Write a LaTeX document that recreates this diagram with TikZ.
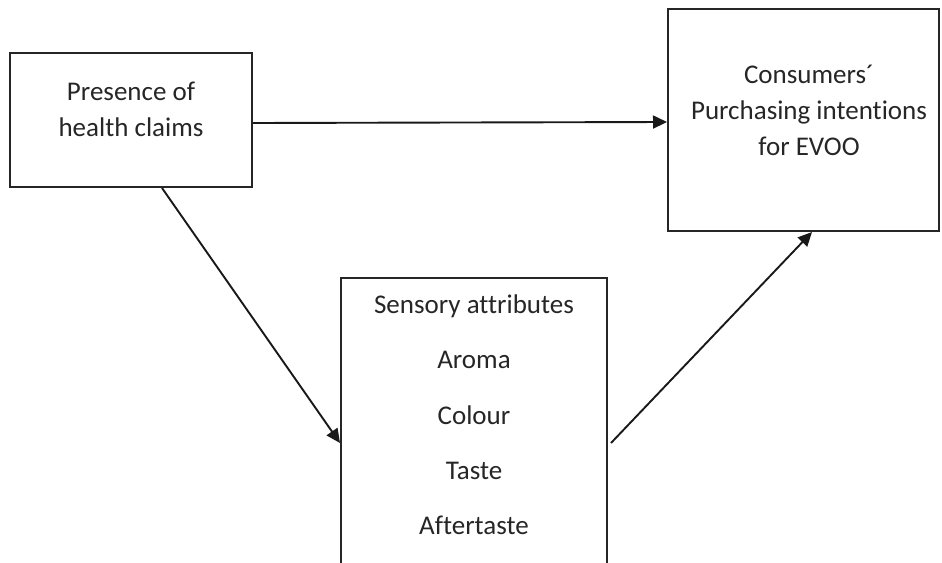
\documentclass[tikz,border=0pt]{standalone}
\usepackage{fontspec}
\setmainfont{Carlito}[Ligatures={NoCommon}]
\usetikzlibrary{arrows.meta}
\begin{document}
\begin{tikzpicture}[x=1pt,y=-1pt,
  boxst/.style={draw=black!85,line width=2pt,inner sep=0pt},
  txt/.style={anchor=base,inner sep=0pt,font=\fontsize{27}{32}\selectfont,text=black!85},
  conn/.style={line width=1.9pt,draw=black!90,-{Triangle[length=14pt,width=13pt]}}]
\useasboundingbox (0,0) rectangle (942,562);
\node[boxst,minimum width=242pt,minimum height=134pt] (hc) at (131,120) {};
\node[boxst,minimum width=271pt,minimum height=222pt] (pi) at (803.5,120) {};
\node[boxst,minimum width=266pt,minimum height=322pt] (sa) at (474,439) {};
\node[txt] (t1) at (131,100) {Presence of};
\node[txt] (t2) at (131,136) {health claims};
\node[txt] (t3) at (809,83) {Consumers´};
\node[txt] (t4) at (809,119) {Purchasing intentions};
\node[txt] (t5) at (809,155) {for EVOO};
\node[txt] (s1) at (474,313) {Sensory attributes};
\node[txt] (s2) at (474,368) {Aroma};
\node[txt] (s3) at (474,424) {Colour};
\node[txt] (s4) at (474,479) {Taste};
\node[txt] (s5) at (474,534) {Aftertaste};
\draw[conn] ([yshift=-3pt]hc.east) -- ([yshift=-2pt]pi.west);
\draw[conn] ([xshift=31pt]hc.south) -- ([yshift=-4pt]sa.west);
\draw[conn] ([xshift=3pt,yshift=-4pt]sa.east) -- ([xshift=8.5pt]pi.south);
\end{tikzpicture}
\end{document}
